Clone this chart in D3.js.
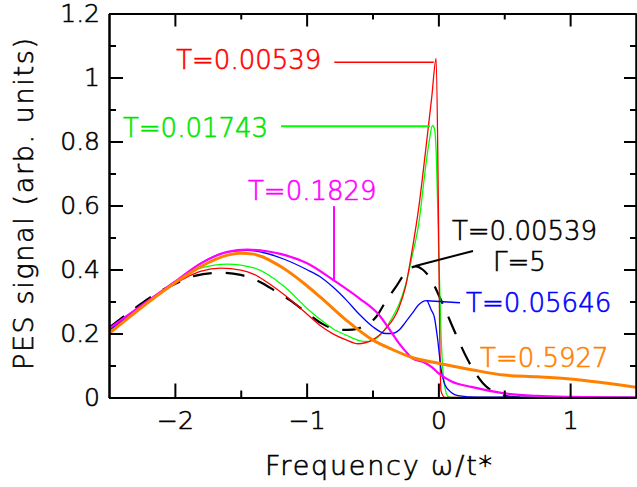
<!DOCTYPE html>
<html>
<head>
<meta charset="utf-8">
<title>PES signal vs frequency</title>
<style>
  body { margin: 0; background: white; }
  text { font-family: "DejaVu Sans", sans-serif; font-weight: 200; stroke-width: 0.6; }
  .axis path { stroke: black; stroke-width: 2; fill: none; }
  .axis .tick line { stroke: black; stroke-width: 2; }
  .axis text { font-size: 25px; fill: black; stroke: black; }
  .curve { fill: none; }
  .note { font-size: 26px; }
  .title { font-size: 27px; fill: black; stroke: black; }
</style>
<script src="https://d3js.org/d3.v7.min.js"></script>
</head>
<body>
<div id="chart"></div>
<script>
// tick values / labels
const xMajor = [-2, -1, 0, 1];
const xMinor = [-1.5, -0.5, 0.5];
const xLabels = ["\u22122", "\u22121", "0", "1"];
const yMajor = [0, 0.2, 0.4, 0.6, 0.8, 1, 1.2];
const yMinor = [0.1, 0.3, 0.5, 0.7, 0.9, 1.1];
const yLabels = ["0", "0.2", "0.4", "0.6", "0.8", "1", "1.2"];

// spectra: [omega, signal]
const red00539 = [[-2.5,0.21],[-2.3,0.27],[-2.1,0.33],[-2.0,0.356],[-1.9,0.378],[-1.8,0.395],[-1.65,0.404],
  [-1.5,0.398],[-1.4,0.385],[-1.3,0.36],[-1.17,0.321],[-1.0,0.262],[-0.9,0.226],[-0.8,0.199],[-0.7,0.18],
  [-0.61,0.168],[-0.5,0.18],[-0.4,0.215],[-0.3,0.28],[-0.25,0.345],[-0.195,0.47],[-0.15,0.59],[-0.1,0.76],
  [-0.05,0.94],[-0.017,1.06],[0.0,0.6],[0.01,0.2],[0.02,0.02],[0.05,0],[1.5,0]];
const green01743 = [[-2.5,0.205],[-2.0,0.358],[-1.8,0.405],[-1.6,0.417],[-1.4,0.405],[-1.17,0.347],[-1.0,0.28],
  [-0.9,0.245],[-0.8,0.215],[-0.7,0.195],[-0.6,0.178],[-0.55,0.175],[-0.5,0.178],[-0.42,0.205],[-0.35,0.25],
  [-0.3,0.29],[-0.25,0.35],[-0.2,0.44],[-0.15,0.54],[-0.1,0.71],[-0.07,0.8],[-0.045,0.85],[-0.03,0.84],
  [-0.015,0.75],[0.0,0.5],[0.02,0.2],[0.04,0.06],[0.07,0.005],[0.1,0],[1.5,0]];
const blue05646 = [[-2.5,0.21],[-2.0,0.36],[-1.8,0.42],[-1.6,0.455],[-1.45,0.46],[-1.3,0.45],[-1.17,0.432],
  [-1.0,0.4],[-0.9,0.378],[-0.8,0.345],[-0.7,0.305],[-0.6,0.26],[-0.5,0.222],[-0.4,0.2],[-0.35,0.2],
  [-0.3,0.21],[-0.25,0.235],[-0.2,0.262],[-0.15,0.29],[-0.09,0.303],[-0.055,0.274],[-0.03,0.25],
  [-0.005,0.18],[0.02,0.09],[0.05,0.04],[0.1,0.015],[0.15,0.006],[0.3,0.001],[1.5,0]];
const magenta1829 = [[-2.5,0.215],[-2.0,0.362],[-1.8,0.42],[-1.6,0.455],[-1.45,0.462],[-1.3,0.457],[-1.2,0.449],
  [-1.0,0.42],[-0.8,0.368],[-0.6,0.31],[-0.45,0.258],[-0.35,0.2],[-0.3,0.17],[-0.25,0.145],[-0.2,0.123],
  [-0.1,0.108],[-0.05,0.095],[0.0,0.076],[0.1,0.05],[0.25,0.033],[0.5,0.013],[0.75,0.005],[1.0,0.002],[1.5,0]];
const orange5927 = [[-2.5,0.2],[-2.0,0.358],[-1.8,0.41],[-1.6,0.445],[-1.5,0.451],[-1.4,0.448],[-1.2,0.41],
  [-1.0,0.35],[-0.9,0.315],[-0.7,0.242],[-0.5,0.18],[-0.35,0.15],[-0.2,0.125],[0.0,0.107],[0.25,0.087],
  [0.5,0.07],[0.75,0.065],[1.0,0.058],[1.25,0.046],[1.5,0.032]];
const dashedGamma5 = [[-2.5,0.218],[-2.3,0.28],[-2.1,0.335],[-2.0,0.355],[-1.85,0.38],[-1.65,0.39],[-1.5,0.383],
  [-1.35,0.36],[-1.25,0.336],[-1.13,0.305],[-1.0,0.265],[-0.88,0.23],[-0.75,0.211],[-0.65,0.212],[-0.57,0.222],
  [-0.47,0.253],[-0.4,0.3],[-0.32,0.347],[-0.25,0.39],[-0.17,0.41],[-0.12,0.4],[-0.07,0.378],[0.03,0.295],
  [0.13,0.2],[0.22,0.12],[0.34,0.044],[0.45,0.012],[0.55,0.002],[0.62,0]];

const series = [
  { data: dashedGamma5, color: "black", width: 2.2, dash: "19,14" },
  { data: green01743, color: "#00ff00", width: 1.3 },
  { data: red00539, color: "#ff0000", width: 1.3 },
  { data: blue05646, color: "#0000ff", width: 1.3 },
  { data: magenta1829, color: "#ff00ff", width: 2.2 },
  { data: orange5927, color: "#ff8000", width: 3 }
];

// labels, anchored in data units
const notes = [
  { text: "T=0.00539", x: -1.99, y: 1.027, color: "#ff0000" },
  { text: "T=0.01743", x: -2.394, y: 0.814, color: "#00e600" },
  { text: "T=0.1829", x: -1.445, y: 0.617, color: "#ff00ff" },
  { text: "T=0.00539", x: 0.103, y: 0.492, color: "black" },
  { text: "\u0393=5", x: 0.415, y: 0.395, color: "black" },
  { text: "T=0.05646", x: 0.21, y: 0.267, color: "#0000ff" },
  { text: "T=0.5927", x: 0.316, y: 0.095, color: "#ff8000" }
];
const leaders = [
  { x1: -0.79, y1: 1.048, x2: -0.035, y2: 1.048, color: "#ff0000", w: 1.5 },
  { x1: -1.194, y1: 0.848, x2: -0.064, y2: 0.848, color: "#00ff00", w: 2 },
  { x1: -0.792, y1: 0.598, x2: -0.792, y2: 0.367, color: "#ff00ff", w: 2 },
  { x1: -0.175, y1: 0.411, x2: 0.263, y2: 0.458, color: "black", w: 2 },
  { x1: -0.087, y1: 0.302, x2: 0.164, y2: 0.296, color: "#0000ff", w: 1.5 }
];

const width = 637;
const height = 487;
const margin = { top: 13.5, right: 1, bottom: 89.5, left: 109 };
const w = width - margin.left - margin.right;
const h = height - margin.top - margin.bottom;

const svg = d3.select("#chart")
  .append("svg")
  .attr("width", width)
  .attr("height", height);

const g = svg.append("g")
  .attr("transform", `translate(${margin.left},${margin.top})`);

const x = d3.scaleLinear().domain([-2.5, 1.5]).range([0, w]);
const y = d3.scaleLinear().domain([0, 1.2]).range([h, 0]);

g.append("clipPath").attr("id", "clip")
  .append("rect").attr("width", w).attr("height", h);

const line = d3.line()
  .x(d => x(d[0]))
  .y(d => y(d[1]))
  .curve(d3.curveMonotoneX);

g.append("g")
  .attr("clip-path", "url(#clip)")
  .selectAll("path")
  .data(series)
  .enter()
  .append("path")
  .attr("class", "curve")
  .attr("d", d => line(d.data))
  .attr("stroke", d => d.color)
  .attr("stroke-width", d => d.width)
  .attr("stroke-dasharray", d => d.dash || null);

g.selectAll(".leader")
  .data(leaders)
  .enter()
  .append("line")
  .attr("class", "leader")
  .attr("x1", d => x(d.x1)).attr("y1", d => y(d.y1))
  .attr("x2", d => x(d.x2)).attr("y2", d => y(d.y2))
  .attr("stroke", d => d.color)
  .attr("stroke-width", d => d.w);

g.selectAll(".note")
  .data(notes)
  .enter()
  .append("text")
  .attr("class", "note")
  .attr("x", d => x(d.x))
  .attr("y", d => y(d.y))
  .attr("fill", d => d.color)
  .attr("stroke", d => d.color)
  .text(d => d.text);

// axes: ticks point inward, mirrored on top/right
const noLabel = () => "";

g.append("g").attr("class", "axis")
  .attr("transform", `translate(0,${h})`)
  .call(d3.axisBottom(x).tickValues(xMinor).tickSize(-7).tickSizeOuter(0).tickFormat(noLabel));
g.append("g").attr("class", "axis")
  .attr("transform", `translate(0,${h})`)
  .call(d3.axisBottom(x).tickValues(xMajor).tickSize(-14).tickSizeOuter(0).tickPadding(14)
    .tickFormat((d, i) => xLabels[i]));

g.append("g").attr("class", "axis")
  .call(d3.axisTop(x).tickValues(xMinor).tickSize(-6).tickSizeOuter(0).tickFormat(noLabel));
g.append("g").attr("class", "axis")
  .call(d3.axisTop(x).tickValues(xMajor).tickSize(-13).tickSizeOuter(0).tickFormat(noLabel));

g.append("g").attr("class", "axis")
  .call(d3.axisLeft(y).tickValues(yMinor).tickSize(-7).tickSizeOuter(0).tickFormat(noLabel));
g.append("g").attr("class", "axis")
  .call(d3.axisLeft(y).tickValues(yMajor).tickSize(-14).tickSizeOuter(0).tickPadding(9)
    .tickFormat((d, i) => yLabels[i]));

g.append("g").attr("class", "axis")
  .attr("transform", `translate(${w},0)`)
  .call(d3.axisRight(y).tickValues(yMinor).tickSize(-6).tickSizeOuter(0).tickFormat(noLabel));
g.append("g").attr("class", "axis")
  .attr("transform", `translate(${w},0)`)
  .call(d3.axisRight(y).tickValues(yMajor).tickSize(-12).tickSizeOuter(0).tickFormat(noLabel));

g.selectAll(".axis text")
  .style("font-family", "DejaVu Sans, sans-serif")
  .style("font-weight", 200);

// axis titles
svg.append("text")
  .attr("class", "title")
  .attr("x", 378.5)
  .attr("y", 475)
  .attr("text-anchor", "middle")
  .attr("textLength", 227)
  .attr("lengthAdjust", "spacing")
  .text("Frequency \u03c9/t*");

svg.append("text")
  .attr("class", "title")
  .attr("transform", "translate(33,204) rotate(-90)")
  .attr("text-anchor", "middle")
  .attr("textLength", 332)
  .attr("lengthAdjust", "spacing")
  .text("PES signal (arb. units)");
</script>
</body>
</html>
